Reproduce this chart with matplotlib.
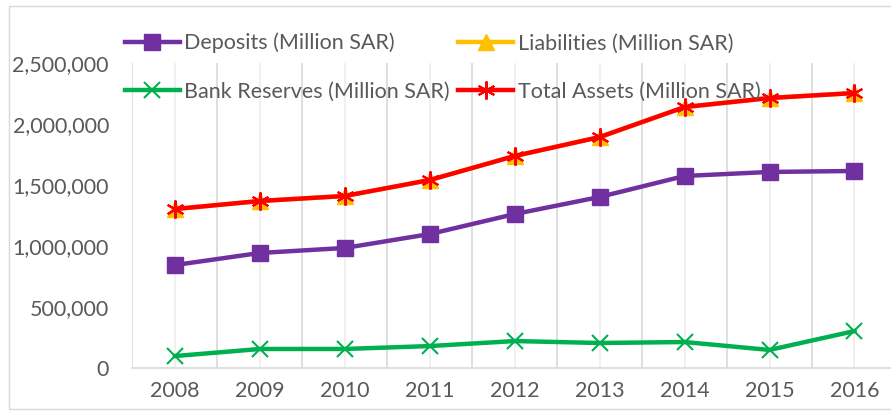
import matplotlib
matplotlib.use('Agg')
import matplotlib.pyplot as plt
from matplotlib.ticker import FuncFormatter, MultipleLocator
import numpy as np

plt.rcParams['font.family'] = ['Lato', 'DejaVu Sans']

years = ['2008', '2009', '2010', '2011', '2012', '2013', '2014', '2015', '2016']
deposits = [844000, 943000, 984000, 1098000, 1262000, 1402000, 1574000, 1607000, 1615000]
liabilities = [1303000, 1369000, 1410000, 1541000, 1738000, 1893000, 2139000, 2213000, 2254000]
reserves = [98000, 156000, 156000, 180000, 221000, 205000, 213000, 148000, 303000]
total_assets = [1303000, 1369000, 1410000, 1541000, 1738000, 1893000, 2139000, 2213000, 2254000]

txt = '#595959'
fs = 15.5
fig = plt.figure(figsize=(8.91, 4.11), dpi=100)
ax = fig.add_axes([0.1487, 0.1046, 0.858, 0.7421])
x = np.arange(len(years))

l1, = ax.plot(x, deposits, color='#7030A0', lw=3.2, marker='s', ms=11)
l3, = ax.plot(x, liabilities, color='#FFC000', lw=3.2, marker='^', ms=11)
l2, = ax.plot(x, reserves, color='#00B050', lw=3.2, marker='x', ms=11, mew=1.5)
l4, = ax.plot(x, total_assets, color='#FF0000', lw=3.2, marker=(6, 2, 0), ms=13, mew=1.5)

ax.set_xlim(-0.5, 8.5)
ax.set_ylim(0, 2500000)
ax.yaxis.set_major_locator(MultipleLocator(500000))
ax.yaxis.set_major_formatter(FuncFormatter(lambda v, p: '{:,.0f}'.format(v)))
ax.set_xticks(x)
ax.set_xticklabels(years)
ax.set_xticks(np.arange(-0.5, 9, 1), minor=True)
ax.grid(True, axis='x', which='minor', color='#d9d9d9', lw=1.2)
ax.grid(True, axis='x', which='major', color='#eeeeee', lw=1.2)
ax.set_axisbelow(True)
for s in ['top', 'right', 'left']:
    ax.spines[s].set_visible(False)
ax.spines['bottom'].set_color('#d9d9d9')
ax.spines['bottom'].set_linewidth(1.2)
ax.tick_params(axis='both', which='both', length=0, colors=txt, labelsize=fs)
ax.tick_params(axis='y', pad=17)
ax.tick_params(axis='x', pad=9)

leg = fig.legend([l1, l2, l3, l4],
                 ['Deposits (Million SAR)', 'Bank Reserves (Million SAR)',
                  'Liabilities (Million SAR)', 'Total Assets (Million SAR)'],
                 ncol=2, frameon=False, fontsize=fs, labelcolor=txt,
                 handlelength=2.55, handletextpad=0.2, columnspacing=0.4,
                 labelspacing=1.3, borderpad=0, borderaxespad=0,
                 loc='upper left', bbox_to_anchor=(0.1403, 0.92))

fig.patches.append(plt.Rectangle((0.01, 0.005), 0.995, 0.98, transform=fig.transFigure,
                                 fill=False, edgecolor='#d9d9d9', lw=1))

fig.savefig('out.png', dpi=100)
